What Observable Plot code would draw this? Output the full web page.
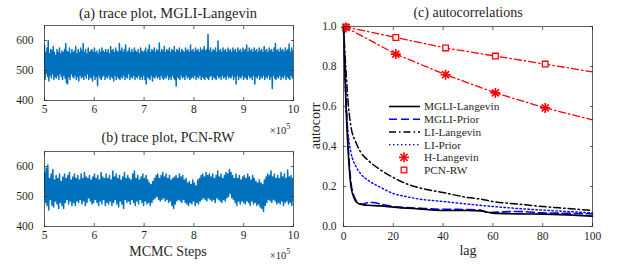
<!DOCTYPE html>
<html><head><meta charset="utf-8">
<script src="https://cdn.jsdelivr.net/npm/d3@7"></script>
<script src="https://cdn.jsdelivr.net/npm/@observablehq/plot@0.6"></script>
<style>
body{margin:0;background:#fff;}
#root{position:relative;width:623px;height:265px;font-family:"Liberation Serif","Times New Roman",serif;color:#262626;overflow:hidden;background:#fff;}
.lbl{position:absolute;white-space:nowrap;transform:translate(-50%,-50%);line-height:1;font-family:"Liberation Serif","Times New Roman",serif;}
svg{position:absolute;}
</style></head>
<body><div id="root"></div>
<script>
// ---------- data ----------
const traceTicksX = [5, 6, 7, 8, 9, 10];
const traceTicksY = [400, 500, 600];
const acTicksX = [0, 20, 40, 60, 80, 100];
const acTicksY = [0, 0.2, 0.4, 0.6, 0.8, 1];

const traceMGLI = [
585,470,560,490,575,480,600,465,555,485,570,475,565,490,580,470,560,480,550,475,
570,485,560,470,575,490,555,480,565,470,560,485,570,475,590,460,565,455,560,480,
575,470,555,490,570,480,560,475,565,485,580,470,555,480,570,465,560,485,575,475,
565,480,590,470,560,485,570,475,555,490,575,470,560,480,565,475,570,465,560,485,
575,470,560,480,565,450,555,485,570,475,560,470,575,480,565,485,560,470,570,480,
560,475,570,485,555,470,580,480,565,475,570,465,560,485,575,470,565,480,560,475,
590,470,565,480,575,475,560,485,570,470,585,480,560,475,565,490,575,470,560,480,
570,475,560,485,575,470,565,480,560,475,570,485,555,470,575,480,565,470,560,485,
565,470,575,455,560,480,570,475,585,470,560,485,570,465,565,480,575,475,560,485,
570,475,565,480,592,470,560,485,570,475,565,470,580,480,560,475,570,485,565,470,
575,480,560,470,570,485,565,475,580,470,560,448,570,480,565,475,575,470,560,485,
570,475,565,480,560,470,575,485,565,475,570,480,560,470,585,475,565,480,570,475,
560,485,575,470,565,480,570,475,560,485,575,470,565,480,570,475,580,470,565,480,
570,475,620,470,565,480,575,485,560,470,570,480,565,475,575,470,560,485,598,475,
565,480,570,470,560,485,575,475,565,480,570,470,560,485,575,475,565,480,570,475,
560,485,575,470,565,480,570,455,560,485,575,470,565,480,570,475,560,485,575,470,
565,480,570,475,585,470,560,485,575,475,565,480,570,470,560,485,575,455,565,480,
570,475,560,485,575,470,565,480,570,475,560,485,580,470,565,480,570,475,560,485,
575,470,565,480,570,440,560,485,575,475,590,470,565,480,570,475,560,485,575,470,
565,480,570,475,560,485,575,470,565,480,570,475,588,470,560,485,575,475,565,490
];

const tracePCN = [
580,480,595,470,605,455,560,490,575,470,590,465,555,485,570,475,560,460,575,480,
550,470,565,460,575,480,560,490,570,475,580,485,555,470,565,480,575,470,560,485,
570,480,555,490,575,475,560,485,580,470,565,480,560,495,570,485,555,475,565,480,
575,490,560,480,570,470,555,485,580,475,565,490,560,470,575,480,560,475,570,485,
555,470,585,480,565,490,575,475,560,465,570,485,555,475,565,460,580,490,560,480,
570,485,560,475,555,490,575,480,585,470,560,485,570,475,555,490,565,480,575,470,
560,485,570,475,555,480,545,470,540,480,550,490,560,495,570,500,575,490,560,485,
570,490,580,495,565,485,575,490,560,480,570,485,555,470,560,460,565,475,570,485,
560,490,575,485,565,480,570,490,555,480,560,475,545,470,550,480,540,475,555,485,
545,470,535,480,555,475,560,485,570,490,575,495,565,490,580,485,570,495,575,490,
565,485,575,490,560,480,570,495,585,490,565,485,575,480,560,490,570,485,580,495,
575,500,590,510,580,495,570,490,560,480,575,470,560,485,570,475,555,485,565,480,
570,475,560,485,575,480,565,470,555,485,570,475,560,480,550,470,545,475,555,465,
545,460,540,450,555,470,565,480,575,490,570,485,585,480,565,490,575,485,560,475,
570,480,560,475,580,485,565,470,575,480,560,485,588,475,565,480,570,470,560,485
];

const lagsMGLILangevin = [0,1,2,3,4,5,6,8,10,15,20,30,40,50,55,60,70,80,90,100];
const acMGLILangevin   = [1,0.6,0.35,0.2,0.15,0.125,0.115,0.108,0.106,0.103,0.097,0.088,0.08,0.08,0.078,0.067,0.063,0.062,0.058,0.052];

const lagsMGLIPrior = [0,1,2,3,4,5,6,8,10,12,15,20,30,40,50,55,58,62,70,80,90,100];
const acMGLIPrior   = [1,0.65,0.38,0.22,0.16,0.13,0.115,0.112,0.12,0.12,0.112,0.1,0.092,0.086,0.085,0.082,0.07,0.072,0.075,0.068,0.066,0.063];

const lagsLILangevin = [0,1,2,3,5,7,10,15,20,25,30,40,50,55,60,70,80,90,100];
const acLILangevin   = [1,0.78,0.6,0.5,0.42,0.37,0.33,0.282,0.245,0.215,0.195,0.17,0.145,0.137,0.125,0.112,0.1,0.09,0.08];

const lagsLIPrior = [0,1,2,3,5,7,10,15,20,25,30,40,50,60,70,80,90,100];
const acLIPrior   = [1,0.62,0.45,0.37,0.3,0.262,0.23,0.195,0.165,0.15,0.138,0.125,0.112,0.1,0.09,0.082,0.075,0.068];

const lagsHLangevin = [0,1,21,41,61,81,100];
const acHLangevin   = [1,0.995,0.862,0.759,0.668,0.593,0.533];
const markLagsHLangevin = [1,21,41,61,81];
const markAcHLangevin   = [0.995,0.862,0.759,0.668,0.593];

const lagsPCNRW = [0,1,21,41,61,81,100];
const acPCNRW   = [1,0.998,0.945,0.893,0.852,0.812,0.773];
const markLagsPCNRW = [1,21,41,61,81];
const markAcPCNRW   = [0.998,0.945,0.893,0.852,0.812];

const legendNames = ["MGLI-Langevin","MGLI-Prior","LI-Langevin","LI-Prior","H-Langevin","PCN-RW"];

// ---------- styling ----------
const FONT = "'Liberation Serif', 'Times New Roman', serif";
const INK = "#1f1f1f";
const BLUE_TRACE = "#0072BD";
const DASH = "8,4";
const DASHDOT = "7,3,1.5,3";
const DOT = "1.5,2.5";

const asterisk8 = {
  draw(ctx, size) {
    const r = Math.sqrt(size / Math.PI);
    for (let k = 0; k < 4; k++) {
      const a = k * Math.PI / 4, dx = r * Math.cos(a), dy = r * Math.sin(a);
      ctx.moveTo(-dx, -dy); ctx.lineTo(dx, dy);
    }
  }
};

const root = document.getElementById("root");
function place(el, left, top) {
  el.style.left = left + "px"; el.style.top = top + "px";
  d3.select(el).selectAll("text")
    .style("font-family", FONT).style("font-size", "11.5px").style("fill", INK);
  root.append(el);
}
function label(text, cx, cy, size, rotate) {
  const d = document.createElement("div");
  d.className = "lbl";
  d.style.left = cx + "px"; d.style.top = cy + "px"; d.style.fontSize = size + "px";
  d.style.color = INK;
  if (rotate) d.style.transform = "translate(-50%,-50%) rotate(-90deg)";
  d.innerHTML = text;
  root.append(d);
}
function pairs(xs, ys) { return xs.map((x, i) => ({x, y: ys[i]})); }

function frameAxes(ticksX, ticksY, padX, padY) {
  return [
    Plot.frame({stroke: INK, strokeWidth: 0.7}),
    Plot.axisX(ticksX, {anchor: "bottom", tickSize: 0, tickPadding: padX, label: null}),
    Plot.axisX(ticksX, {anchor: "bottom", tickSize: -3, tickFormat: () => "", label: null, stroke: INK, strokeWidth: 0.7}),
    Plot.axisX(ticksX, {anchor: "top", tickSize: -3, tickFormat: () => "", label: null, stroke: INK, strokeWidth: 0.7}),
    Plot.axisY(ticksY, {anchor: "left", tickSize: 0, tickPadding: padY, label: null}),
    Plot.axisY(ticksY, {anchor: "left", tickSize: -3, tickFormat: () => "", label: null, stroke: INK, strokeWidth: 0.7}),
    Plot.axisY(ticksY, {anchor: "right", tickSize: -3, tickFormat: () => "", label: null, stroke: INK, strokeWidth: 0.7})
  ];
}

function tracePlot(vals) {
  const n = vals.length;
  const data = vals.map((v, i) => ({x: 5 + 5 * i / (n - 1), y: v}));
  return Plot.plot({
    width: 310, height: 120, marginTop: 25, marginBottom: 20, marginLeft: 44, marginRight: 17,
    style: {background: "transparent", overflow: "visible"},
    x: {domain: [5, 10]}, y: {domain: [400, 650]},
    marks: [
      Plot.line(data, {x: "x", y: "y", stroke: BLUE_TRACE, strokeWidth: 1.5, clip: true}),
      ...frameAxes(traceTicksX, traceTicksY, 4, 11)
    ]
  });
}

place(tracePlot(traceMGLI), 0, 0);
place(tracePlot(tracePCN), 0, 126);

const ac = Plot.plot({
  width: 313, height: 245, marginTop: 26, marginBottom: 19, marginLeft: 33, marginRight: 31,
  style: {background: "transparent", overflow: "visible"},
  x: {domain: [0, 100]}, y: {domain: [0, 1]},
  marks: [
    Plot.line(pairs(lagsPCNRW, acPCNRW), {x: "x", y: "y", stroke: "#ff0000", strokeWidth: 1.3, strokeDasharray: DASHDOT}),
    Plot.line(pairs(lagsHLangevin, acHLangevin), {x: "x", y: "y", stroke: "#ff0000", strokeWidth: 1.3, strokeDasharray: DASHDOT}),
    Plot.line(pairs(lagsLIPrior, acLIPrior), {x: "x", y: "y", stroke: "#0000ff", strokeWidth: 1.4, strokeDasharray: DOT, curve: "monotone-x"}),
    Plot.line(pairs(lagsLILangevin, acLILangevin), {x: "x", y: "y", stroke: "#000", strokeWidth: 1.5, strokeDasharray: DASHDOT, curve: "monotone-x"}),
    Plot.line(pairs(lagsMGLIPrior, acMGLIPrior), {x: "x", y: "y", stroke: "#0000ff", strokeWidth: 1.6, strokeDasharray: DASH, curve: "monotone-x"}),
    Plot.line(pairs(lagsMGLILangevin, acMGLILangevin), {x: "x", y: "y", stroke: "#000", strokeWidth: 1.6, curve: "monotone-x"}),
    Plot.dot(pairs(markLagsPCNRW, markAcPCNRW), {x: "x", y: "y", symbol: "square", r: 3.2, stroke: "#ff0000", fill: "#fff", strokeWidth: 1.3}),
    Plot.dot(pairs(markLagsHLangevin, markAcHLangevin), {x: "x", y: "y", symbol: asterisk8, r: 5, stroke: "#ff0000", strokeWidth: 1.6}),
    ...frameAxes(acTicksX, acTicksY, 5, 7)
  ]
});
place(ac, 310, 0);

// ---------- legend ----------
const leg = d3.create("svg").attr("width", 623).attr("height", 265).style("left", "0px").style("top", "0px");
const legStyles = [
  {stroke: "#000", dash: null, w: 1.6},
  {stroke: "#0000ff", dash: DASH, w: 1.6},
  {stroke: "#000", dash: DASHDOT, w: 1.5},
  {stroke: "#0000ff", dash: DOT, w: 1.4},
  {marker: "asterisk"},
  {marker: "square"}
];
legendNames.forEach((name, i) => {
  const y = 106.5 + i * 12.7;
  const s = legStyles[i];
  if (s.marker === "asterisk") {
    const r = 5;
    for (let k = 0; k < 4; k++) {
      const a = k * Math.PI / 4;
      leg.append("line").attr("x1", 404 - r * Math.cos(a)).attr("y1", y - r * Math.sin(a))
        .attr("x2", 404 + r * Math.cos(a)).attr("y2", y + r * Math.sin(a))
        .attr("stroke", "#ff0000").attr("stroke-width", 1.6);
    }
  } else if (s.marker === "square") {
    leg.append("rect").attr("x", 401.2).attr("y", y - 2.8).attr("width", 5.6).attr("height", 5.6)
      .attr("fill", "#fff").attr("stroke", "#ff0000").attr("stroke-width", 1.3);
  } else {
    leg.append("line").attr("x1", 389).attr("x2", 420).attr("y1", y).attr("y2", y)
      .attr("stroke", s.stroke).attr("stroke-width", s.w).attr("stroke-dasharray", s.dash);
  }
  leg.append("text").attr("x", 424).attr("y", y).attr("dy", "0.35em")
    .style("font-family", FONT).style("font-size", "11.3px").attr("fill", INK).text(name);
});
root.append(leg.node());

// ---------- titles & labels ----------
label("(a) trace plot, MGLI-Langevin", 168, 13, 14.5);
label("(b) trace plot, PCN-RW", 168, 138, 14);
label("(c) autocorrelations", 468, 13, 14);
label("MCMC Steps", 168, 252, 14);
label("lag", 468, 251, 14);
label("autocorr", 316, 126, 14, true);
label("&times;10<sup style='font-size:8px;vertical-align:5px'>5</sup>", 280, 130, 10.5);
label("&times;10<sup style='font-size:8px;vertical-align:5px'>5</sup>", 280, 255, 10.5);
</script>
</body></html>
